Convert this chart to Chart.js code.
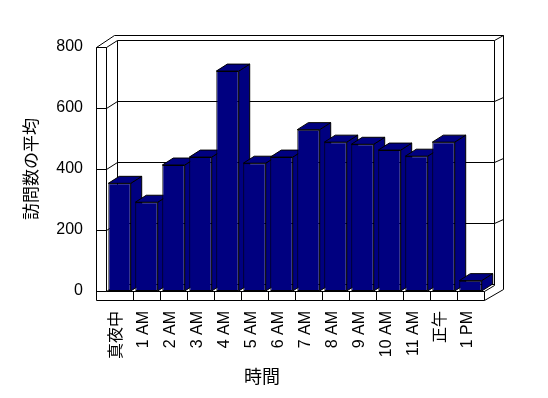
<!DOCTYPE html>
<html>
<head>
<meta charset="utf-8">
<script src="https://cdn.jsdelivr.net/npm/chart.js@4/dist/chart.umd.min.js"></script>
<style>
  html, body { margin: 0; padding: 0; background: #ffffff; }
  #wrap { width: 548px; height: 398px; }
</style>
</head>
<body>
<div id="wrap"><canvas id="c" width="548" height="398"></canvas></div>
<script>
const categories = ['真夜中', '1 AM', '2 AM', '3 AM', '4 AM', '5 AM', '6 AM', '7 AM', '8 AM', '9 AM', '10 AM', '11 AM', '正午', '1 PM'];
const visits = [353, 291, 413, 439, 721, 419, 439, 529, 488, 481, 462, 442, 488, 34];
const yTicks = [0, 200, 400, 600, 800];
const yTitle = '訪問数の平均';
const xTitle = '時間';

const BAR = '#000080';
const LINE = '#000000';
const FONT = "'Liberation Sans', 'Noto Sans CJK JP', sans-serif";
const CJK = "'Noto Sans CJK JP', 'Liberation Sans', sans-serif";
const DX = 11, DY = -7;

function line(ctx, x1, y1, x2, y2) {
  ctx.beginPath();
  ctx.moveTo(x1, y1);
  ctx.lineTo(x2, y2);
  ctx.stroke();
}
function poly(ctx, pts) {
  ctx.beginPath();
  ctx.moveTo(pts[0][0], pts[0][1]);
  for (let i = 1; i < pts.length; i++) ctx.lineTo(pts[i][0], pts[i][1]);
  ctx.closePath();
  ctx.fill();
  ctx.stroke();
}

const box3d = {
  id: 'box3d',
  beforeDatasetsDraw(chart) {
    const ctx = chart.ctx;
    const a = chart.chartArea;
    const ys = chart.scales.y;
    const xs = chart.scales.x;
    const L = Math.round(a.left) + 0.5, R = Math.round(a.right) + 0.5;
    const T = Math.round(a.top) + 0.5, B = Math.round(a.bottom) + 0.5;
    ctx.save();
    ctx.strokeStyle = LINE;
    ctx.lineWidth = 1;
    // outer frame
    line(ctx, L - 10, T, L - 10, B + 9);
    line(ctx, L, T, L, B);
    line(ctx, L - 10, T, L, T);
    line(ctx, L - 10, T, L + 8, T - 12);
    line(ctx, L + 8, T - 12, R + 19, T - 12);
    line(ctx, R + 10, T + DY, R + 19, T - 12);
    line(ctx, R + 19, T - 12, R + 19, B - 2);
    line(ctx, R + 10, T + DY, R + 10, B - 6);
    line(ctx, L + DX, T + DY, L + DX, B + DY);
    // floor
    line(ctx, L - 10, B + 9, R, B + 9);
    line(ctx, L, B, R, B);
    line(ctx, R, B, R, B + 9);
    line(ctx, R, B + 9, R + 19, B - 2);
    line(ctx, R, B, R + 10, B - 6);
    for (let i = 0; i < categories.length - 1; i++) {
      const bx = Math.round((xs.getPixelForValue(i) + xs.getPixelForValue(i + 1)) / 2) + 0.5;
      line(ctx, bx, B, bx, B + 9);
    }
    // gridlines on walls
    yTicks.forEach(v => {
      const y = Math.round(ys.getPixelForValue(v)) + 0.5;
      line(ctx, L - 10, y, L, y);
      line(ctx, L, y, L + DX, y + DY);
      line(ctx, L + DX, y + DY, R + 10, y + DY);
      if (v > 0 && v < 800) line(ctx, R + 10, y + DY, R + 19, y + DY - 4);
    });
    // 3D bar sides and tops
    ctx.fillStyle = BAR;
    const meta = chart.getDatasetMeta(0);
    meta.data.forEach(el => {
      const p = el.getProps(['x', 'y', 'base', 'width'], true);
      const l = p.x - p.width / 2, r = p.x + p.width / 2;
      const top = p.y, base = p.base;
      poly(ctx, [[r, top], [r + DX, top + DY], [r + DX, base + DY], [r, base]]);
      poly(ctx, [[l, top], [r, top], [r + DX, top + DY], [l + DX, top + DY]]);
    });
    ctx.restore();
  },
  afterDraw(chart) {
    const ctx = chart.ctx;
    const a = chart.chartArea;
    ctx.save();
    ctx.fillStyle = '#000000';
    ctx.font = '18px ' + CJK;
    ctx.textAlign = 'center';
    ctx.textBaseline = 'middle';
    ctx.fillText(xTitle, a.left + 156, a.bottom + 85);
    ctx.restore();
  }
};

new Chart(document.getElementById('c'), {
  type: 'bar',
  data: {
    labels: categories,
    datasets: [{
      data: visits,
      backgroundColor: BAR,
      borderColor: LINE,
      borderWidth: 1,
      borderSkipped: false,
      categoryPercentage: 1,
      barPercentage: 0.83
    }]
  },
  options: {
    responsive: false,
    animation: false,
    events: [],
    layout: { padding: { left: 0, right: 64, top: 47, bottom: 0 } },
    plugins: { legend: { display: false }, tooltip: { enabled: false } },
    scales: {
      x: {
        grid: { display: false, drawTicks: false },
        border: { display: false },
        ticks: {
          color: '#000000',
          font: { family: FONT, size: 16 },
          minRotation: 90,
          maxRotation: 90,
          autoSkip: false,
          padding: 20,
          labelOffset: -3
        },
        afterFit(s) { s.height = 107; }
      },
      y: {
        min: 0,
        max: 800,
        grid: { display: false, drawTicks: false },
        border: { display: false },
        ticks: {
          stepSize: 200,
          color: '#000000',
          font: { family: FONT, size: 16 },
          padding: 23
        },
        title: {
          display: true,
          text: yTitle,
          color: '#000000',
          font: { family: CJK, size: 17 },
          padding: { top: 20, bottom: 0 }
        },
        afterFit(s) { s.width = 106; }
      }
    }
  },
  plugins: [box3d]
});
</script>
</body>
</html>
